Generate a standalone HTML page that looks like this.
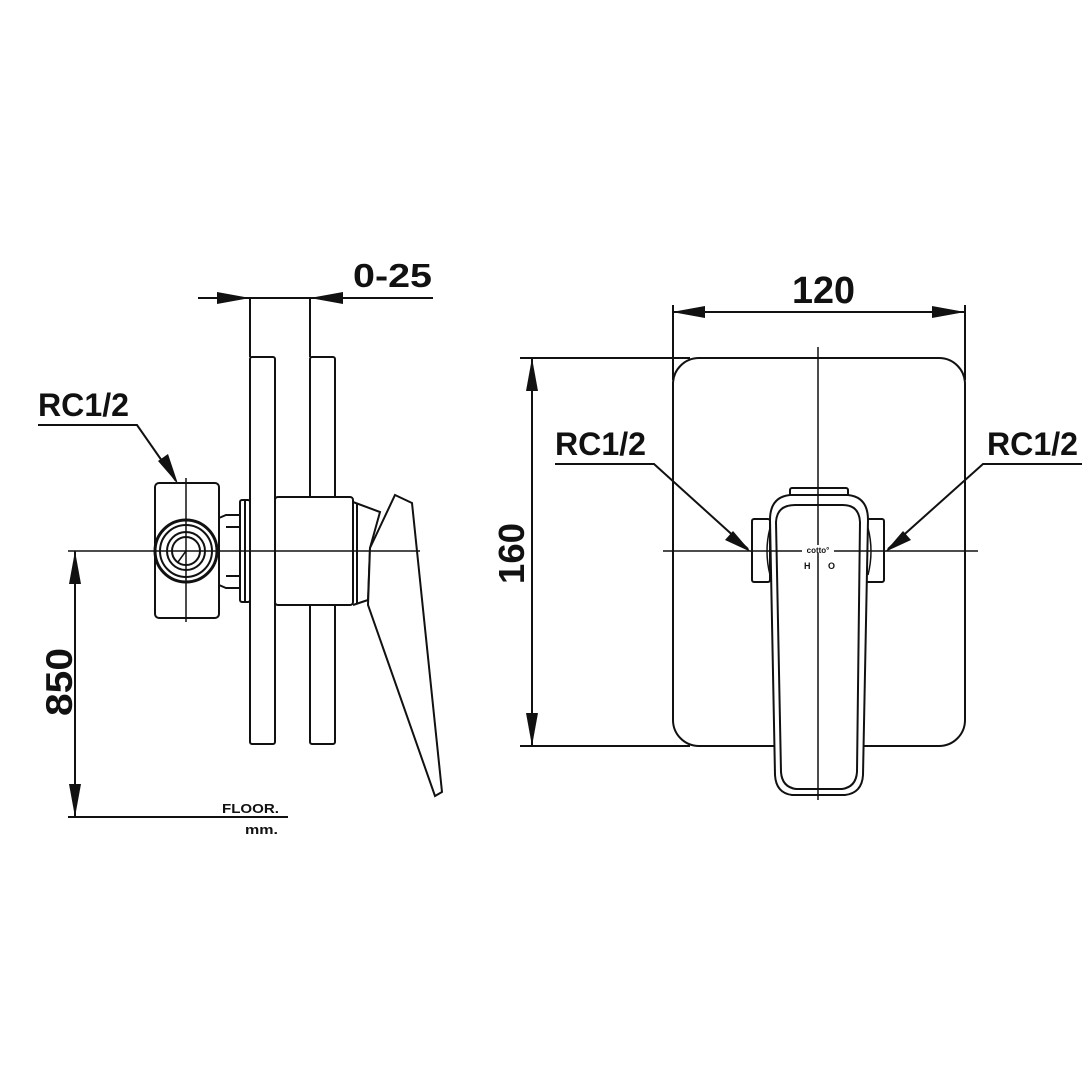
<!DOCTYPE html>
<html><head><meta charset="utf-8"><style>html,body{margin:0;padding:0;background:#fff}svg{display:block}</style></head>
<body>
<svg width="1090" height="1090" viewBox="0 0 1090 1090" xmlns="http://www.w3.org/2000/svg" font-family="Liberation Sans, sans-serif" font-weight="bold" fill="none" stroke="#111" stroke-width="2">
<!-- LEFT VIEW -->
<!-- 0-25 dimension -->
<line x1="198" y1="298" x2="433" y2="298"/>
<line x1="250" y1="298" x2="250" y2="357"/>
<line x1="310" y1="298" x2="310" y2="357"/>
<polygon points="250,298 217,292 217,304" fill="#111" stroke="none"/>
<polygon points="310,298 343,292 343,304" fill="#111" stroke="none"/>
<text x="353" y="287" font-size="33" fill="#111" stroke="none" textLength="79" lengthAdjust="spacingAndGlyphs">0-25</text>
<!-- plates -->
<rect x="250" y="357" width="25" height="387" rx="2"/>
<rect x="310" y="357" width="25" height="387" rx="2"/>
<!-- body -->
<rect x="275" y="497" width="78" height="108" rx="3" fill="#fff"/>
<rect x="240" y="500" width="10" height="102" rx="2"/>
<line x1="245" y1="500" x2="245" y2="602"/>
<!-- neck -->
<path d="M219,518 L226,515 L240,515 M219,585 L226,588 L240,588 M226,527 L240,527 M226,576 L240,576"/>
<!-- valve box -->
<rect x="155" y="483" width="64" height="135" rx="4"/>
<circle cx="186" cy="551" r="31" stroke-width="3"/>
<circle cx="186" cy="551" r="26"/>
<circle cx="186" cy="551" r="19"/>
<circle cx="186" cy="551" r="14"/>
<path d="M178,562 L186,551" stroke-width="1.5"/>
<!-- cone -->
<path d="M353,502 L380,512 L370,548 L368,600 L353,605"/>
<line x1="357" y1="503" x2="357" y2="604"/>
<!-- lever -->
<path d="M395,495 L412,503 L442,792 L435,796 L368,605 L370,548 Z" fill="#fff"/>
<!-- center lines -->
<line x1="68" y1="551" x2="420" y2="551" stroke-width="1.5"/>
<line x1="186" y1="478" x2="186" y2="622" stroke-width="1.5"/>
<!-- RC1/2 left -->
<text x="38" y="416" font-size="32" fill="#111" stroke="none" textLength="91" lengthAdjust="spacingAndGlyphs">RC1/2</text>
<polyline points="38,425 137,425 176,481"/>
<polygon points="178,484 158,461 168,454" fill="#111" stroke="none"/>
<!-- 850 -->
<line x1="75" y1="551" x2="75" y2="817"/>
<polygon points="75,551 69,584 81,584" fill="#111" stroke="none"/>
<polygon points="75,817 69,784 81,784" fill="#111" stroke="none"/>
<line x1="68" y1="817" x2="288" y2="817"/>
<text transform="translate(72,716) rotate(-90)" font-size="37" fill="#111" stroke="none" textLength="68" lengthAdjust="spacingAndGlyphs">850</text>
<text x="222" y="813" font-size="13" fill="#111" stroke="none" textLength="57" lengthAdjust="spacingAndGlyphs">FLOOR.</text>
<text x="245" y="834" font-size="13" fill="#111" stroke="none" textLength="33" lengthAdjust="spacingAndGlyphs">mm.</text>

<!-- RIGHT VIEW -->
<line x1="672" y1="312" x2="965" y2="312"/>
<line x1="673" y1="305" x2="673" y2="380"/>
<line x1="965" y1="305" x2="965" y2="380"/>
<polygon points="672,312 705,306 705,318" fill="#111" stroke="none"/>
<polygon points="965,312 932,306 932,318" fill="#111" stroke="none"/>
<text x="792" y="303" font-size="38" fill="#111" stroke="none" textLength="63" lengthAdjust="spacingAndGlyphs">120</text>
<rect x="673" y="358" width="292" height="388" rx="26"/>
<line x1="520" y1="358" x2="690" y2="358"/>
<line x1="520" y1="746" x2="690" y2="746"/>
<line x1="532" y1="358" x2="532" y2="746"/>
<polygon points="532,358 526,391 538,391" fill="#111" stroke="none"/>
<polygon points="532,746 526,713 538,713" fill="#111" stroke="none"/>
<text transform="translate(524,584) rotate(-90)" font-size="36" fill="#111" stroke="none" textLength="61" lengthAdjust="spacingAndGlyphs">160</text>
<!-- side blocks -->
<rect x="752" y="519" width="18" height="63" rx="2"/>
<rect x="866" y="519" width="18" height="63" rx="2"/>
<!-- handle -->
<rect x="790" y="488" width="58" height="10" rx="2"/>
<path d="M790,495 L848,495 Q868,497 868,520 L863,775 Q862,793 845,795 L792,795 Q776,793 775,775 L770,520 Q770,497 790,495 Z" fill="#fff"/>
<path d="M795,505 L843,505 Q859,505 860,522 L857,772 Q856,787 842,789 L796,789 Q782,787 781,772 L776,522 Q777,505 795,505 Z"/>
<path d="M770,528 Q764,551 770,575 M868,528 Q874,551 868,575" stroke-width="1.5"/>
<!-- center lines -->
<line x1="818" y1="347" x2="818" y2="800" stroke-width="1.5"/>
<line x1="663" y1="551" x2="978" y2="551" stroke-width="1.5"/>
<rect x="802" y="545" width="32" height="8" fill="#fff" stroke="none"/>
<text x="818" y="553" font-size="8" text-anchor="middle" fill="#111" stroke="none">cotto°</text>
<text x="804" y="569" font-size="9" fill="#111" stroke="none">H</text>
<text x="828" y="569" font-size="9" fill="#111" stroke="none">O</text>
<!-- RC1/2 right-view leaders -->
<text x="555" y="455" font-size="32" fill="#111" stroke="none" textLength="91" lengthAdjust="spacingAndGlyphs">RC1/2</text>
<polyline points="555,464 654,464 748,549"/>
<polygon points="751,552 725,540 733,531" fill="#111" stroke="none"/>
<text x="987" y="455" font-size="32" fill="#111" stroke="none" textLength="91" lengthAdjust="spacingAndGlyphs">RC1/2</text>
<polyline points="1082,464 983,464 888,549"/>
<polygon points="885,552 903,531 911,540" fill="#111" stroke="none"/>
</svg>
</body></html>
